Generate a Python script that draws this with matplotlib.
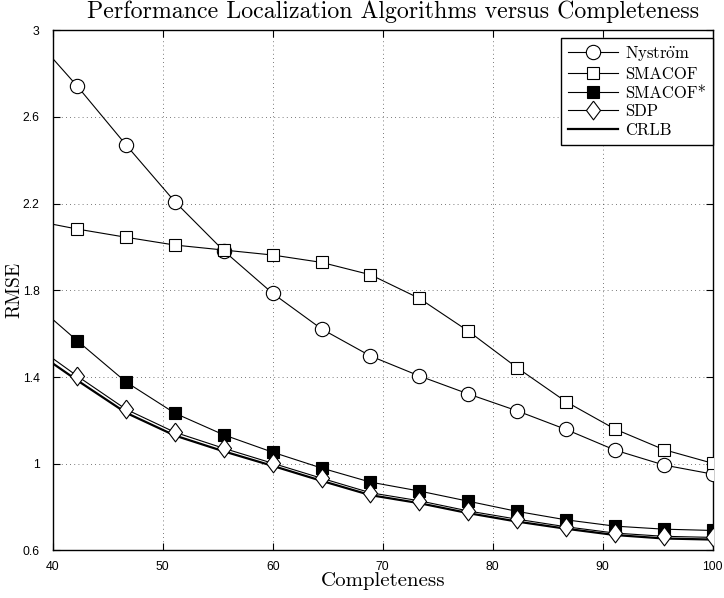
import numpy as np
import matplotlib
matplotlib.use('Agg')
import matplotlib.pyplot as plt
from matplotlib import font_manager

# completeness (%) -- first point has no marker
completeness = [40, 42.22, 46.67, 51.11, 55.56, 60, 64.44, 68.89, 73.33, 77.78, 82.22, 86.67, 91.11, 95.56, 100]

nystrom = [2.870, 2.743, 2.471, 2.209, 1.982, 1.786, 1.622, 1.497, 1.405, 1.322, 1.244, 1.158, 1.063, 0.994, 0.952]
smacof = [2.105, 2.083, 2.045, 2.009, 1.986, 1.963, 1.929, 1.872, 1.763, 1.612, 1.443, 1.286, 1.160, 1.065, 1.002]
smacof_star = [1.666, 1.568, 1.377, 1.233, 1.133, 1.053, 0.980, 0.915, 0.874, 0.827, 0.780, 0.741, 0.712, 0.698, 0.692]
sdp = [1.486, 1.405, 1.251, 1.145, 1.071, 1.002, 0.933, 0.866, 0.829, 0.782, 0.744, 0.709, 0.680, 0.665, 0.660]
crlb = [1.463, 1.385, 1.235, 1.130, 1.057, 0.990, 0.921, 0.855, 0.818, 0.772, 0.733, 0.700, 0.671, 0.655, 0.650]

labels = ['Nystr$\\ddot{\\mathrm{o}}$m', 'SMACOF', 'SMACOF*', 'SDP', 'CRLB']
xticks = [40, 50, 60, 70, 80, 90, 100]
yticks = [0.6, 1, 1.4, 1.8, 2.2, 2.6, 3]

plt.rcParams['mathtext.fontset'] = 'cm'
serif = ['cmr10', 'DejaVu Serif']
diamond = [(0, 1), (0.75, 0), (0, -1), (-0.75, 0), (0, 1)]

# narrow helvetica-like face for tick labels if there is one
names = set(f.name for f in font_manager.fontManager.ttflist)
tickfont = 'Liberation Sans Narrow' if 'Liberation Sans Narrow' in names else 'Liberation Sans'
ticksize = 10 if tickfont == 'Liberation Sans Narrow' else 8.8

fig = plt.figure(figsize=(7.24, 5.98), dpi=100)
ax = fig.add_axes([0.0728, 0.0796, 0.9116, 0.8697])

mk = slice(1, None)
ax.plot(completeness, nystrom, 'k-', lw=0.8, marker='o', ms=10.3, mfc='white', mec='k', mew=0.8,
        markevery=mk, label=labels[0], zorder=3)
ax.plot(completeness, smacof, 'k-', lw=0.8, marker='s', ms=8.4, mfc='white', mec='k', mew=0.8,
        markevery=mk, label=labels[1], zorder=3)
ax.plot(completeness, smacof_star, 'k-', lw=0.8, marker='s', ms=8.6, mfc='black', mec='k', mew=0.8,
        markevery=mk, label=labels[2], zorder=3)
ax.plot(completeness, sdp, 'k-', lw=0.8, marker=diamond, ms=13.5, mfc='white', mec='k', mew=0.8,
        markevery=mk, label=labels[3], zorder=5)
ax.plot(completeness, crlb, 'k-', lw=1.6, label=labels[4], zorder=4)

ax.set_xlim(40, 100)
ax.set_ylim(0.6, 3)
ax.set_xticks(xticks)
ax.set_yticks(yticks)
ax.set_yticklabels(['%g' % v for v in yticks])
ax.tick_params(direction='in', top=True, right=True, length=5, width=0.8)
ax.tick_params(axis='y', pad=9.5)
ax.tick_params(axis='x', pad=7.5)
for lab in ax.get_xticklabels() + ax.get_yticklabels():
    lab.set_family(tickfont)
    lab.set_fontsize(ticksize)
ax.grid(True, linestyle=(0, (1, 4)), color='k', lw=0.6, alpha=0.7)
for s in ax.spines.values():
    s.set_linewidth(1.0)

ax.set_title('Performance Localization Algorithms versus Completeness', family=serif, fontsize=17.2,
             pad=8.6, x=0.516)
ax.set_xlabel('Completeness', family=serif, fontsize=15)
ax.xaxis.set_label_coords(0.5, -0.042)
ax.set_ylabel('RMSE', family=serif, fontsize=14)
ax.yaxis.set_label_coords(-0.045, 0.5)

leg = ax.legend(loc='upper right', bbox_to_anchor=(1.0, 0.986), borderaxespad=0, numpoints=1,
                handlelength=3.0, prop={'family': serif, 'size': 12}, fancybox=False,
                edgecolor='k', framealpha=1, labelspacing=0.2, borderpad=0.4, handletextpad=0.45)
leg.get_frame().set_linewidth(1.0)

plt.savefig('out.png', dpi=100)
